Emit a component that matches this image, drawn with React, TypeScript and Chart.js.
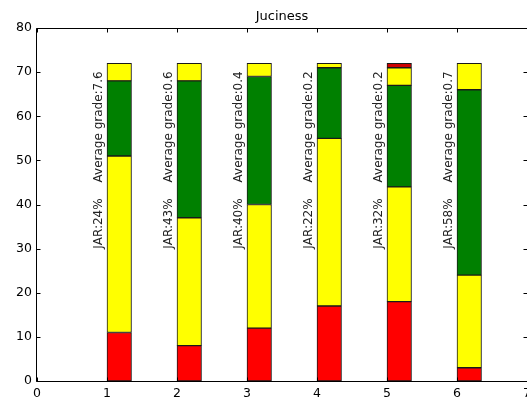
import React, { useEffect, useRef } from 'react';
import { Chart, registerables } from 'chart.js';

Chart.register(...registerables);

const title = 'Juciness';
const categories = [1, 2, 3, 4, 5, 6];
const redLow = [11, 8, 12, 17, 18, 3];
const yellowLow = [40, 29, 28, 38, 26, 21];
const green = [17, 31, 29, 16, 23, 42];
const yellowHigh = [4, 4, 3, 1, 4, 6];
const redHigh = [0, 0, 0, 0, 1, 0];
const jarLabels = ['JAR:24%', 'JAR:43%', 'JAR:40%', 'JAR:22%', 'JAR:32%', 'JAR:58%'];
const gradeLabels = [
  'Average grade:7.6',
  'Average grade:0.6',
  'Average grade:0.4',
  'Average grade:0.2',
  'Average grade:0.2',
  'Average grade:0.7',
];
const xTicks = [0, 1, 2, 3, 4, 5, 6, 7];
const yTicks = [0, 10, 20, 30, 40, 50, 60, 70, 80];

const BAR_WIDTH = 0.35;
const JAR_Y = 30;
const GRADE_Y = 45;
const LABEL_DX = -0.2;
const FONT = '"DejaVu Sans", sans-serif';

const decor = {
  id: 'decor',
  afterDatasetsDraw(chart: any) {
    const { ctx, chartArea: a, scales } = chart;
    const x = scales.x;
    const y = scales.y;
    ctx.save();
    ctx.strokeStyle = '#000';
    ctx.lineWidth = 1;
    const L = Math.round(a.left) - 0.5;
    const R = Math.round(a.right) + 0.5;
    const T = Math.round(a.top) + 0.5;
    const B = Math.round(a.bottom) + 0.5;
    ctx.beginPath();
    ctx.moveTo(L, T);
    ctx.lineTo(R, T);
    ctx.lineTo(R, B);
    ctx.lineTo(L, B);
    ctx.closePath();
    ctx.stroke();
    ctx.beginPath();
    xTicks.forEach((v) => {
      const px = Math.round(x.getPixelForValue(v)) + 0.5;
      ctx.moveTo(px, B);
      ctx.lineTo(px, B - 4);
      ctx.moveTo(px, T);
      ctx.lineTo(px, T + 4);
    });
    yTicks.forEach((v) => {
      const py = Math.round(y.getPixelForValue(v)) + 0.5;
      ctx.moveTo(L, py);
      ctx.lineTo(L + 4, py);
      ctx.moveTo(R, py);
      ctx.lineTo(R - 4, py);
    });
    ctx.stroke();

    ctx.fillStyle = '#222';
    ctx.font = `12px ${FONT}`;
    ctx.textAlign = 'left';
    ctx.textBaseline = 'top';
    categories.forEach((c, i) => {
      const px = x.getPixelForValue(c + LABEL_DX);
      [
        [jarLabels[i], JAR_Y],
        [gradeLabels[i], GRADE_Y],
      ].forEach(([txt, yy]) => {
        ctx.save();
        ctx.translate(px, y.getPixelForValue(yy as number));
        ctx.rotate(-Math.PI / 2);
        ctx.fillText(txt as string, 0, 0);
        ctx.restore();
      });
    });

    ctx.fillStyle = '#000';
    ctx.font = `13px ${FONT}`;
    ctx.textAlign = 'center';
    ctx.textBaseline = 'middle';
    ctx.fillText(title, (a.left + a.right) / 2, 17);
    ctx.restore();
  },
};

export default function App() {
  const ref = useRef<HTMLCanvasElement | null>(null);
  useEffect(() => {
    document.body.style.margin = '0';
    const pts = (vals: number[]) =>
      categories.map((c, i) => ({ x: c + BAR_WIDTH / 2, y: vals[i] === 0 ? null : vals[i] }));
    const mk = (vals: number[], color: string) => ({
      data: pts(vals),
      backgroundColor: color,
      borderColor: '#1a1a1a',
      borderWidth: 1,
      borderSkipped: false,
      barThickness: 24.5,
    });
    const chart = new Chart(ref.current as HTMLCanvasElement, {
      type: 'bar',
      data: {
        datasets: [
          mk(redLow, '#ff0000'),
          mk(yellowLow, '#ffff00'),
          mk(green, '#008000'),
          mk(yellowHigh, '#ffff00'),
          mk(redHigh, '#cc0000'),
        ] as any,
      },
      options: {
        animation: false,
        responsive: false,
        maintainAspectRatio: false,
        layout: { padding: { top: 28, right: 0, left: 0, bottom: 0 } },
        plugins: {
          legend: { display: false },
          title: { display: false },
          tooltip: { enabled: false },
        },
        scales: {
          x: {
            type: 'linear',
            stacked: true,
            offset: false,
            min: 0,
            max: 7,
            grid: { display: false, drawTicks: false, offset: false },
            border: { display: false },
            ticks: {
              stepSize: 1,
              padding: 5,
              color: '#000',
              font: { family: FONT, size: 12.5 },
            },
            afterFit: (s: any) => {
              s.height = 20;
              s.paddingLeft = 0;
              s.paddingRight = 0;
            },
          },
          y: {
            type: 'linear',
            stacked: true,
            min: 0,
            max: 80,
            grid: { display: false, drawTicks: false },
            border: { display: false },
            ticks: {
              stepSize: 10,
              padding: 5,
              color: '#000',
              font: { family: FONT, size: 12.5 },
            },
            afterFit: (s: any) => {
              s.width = 37;
            },
          },
        },
      } as any,
      plugins: [decor],
    });
    return () => chart.destroy();
  }, []);
  return <canvas ref={ref} width={527} height={401} style={{ display: 'block' }} />;
}
